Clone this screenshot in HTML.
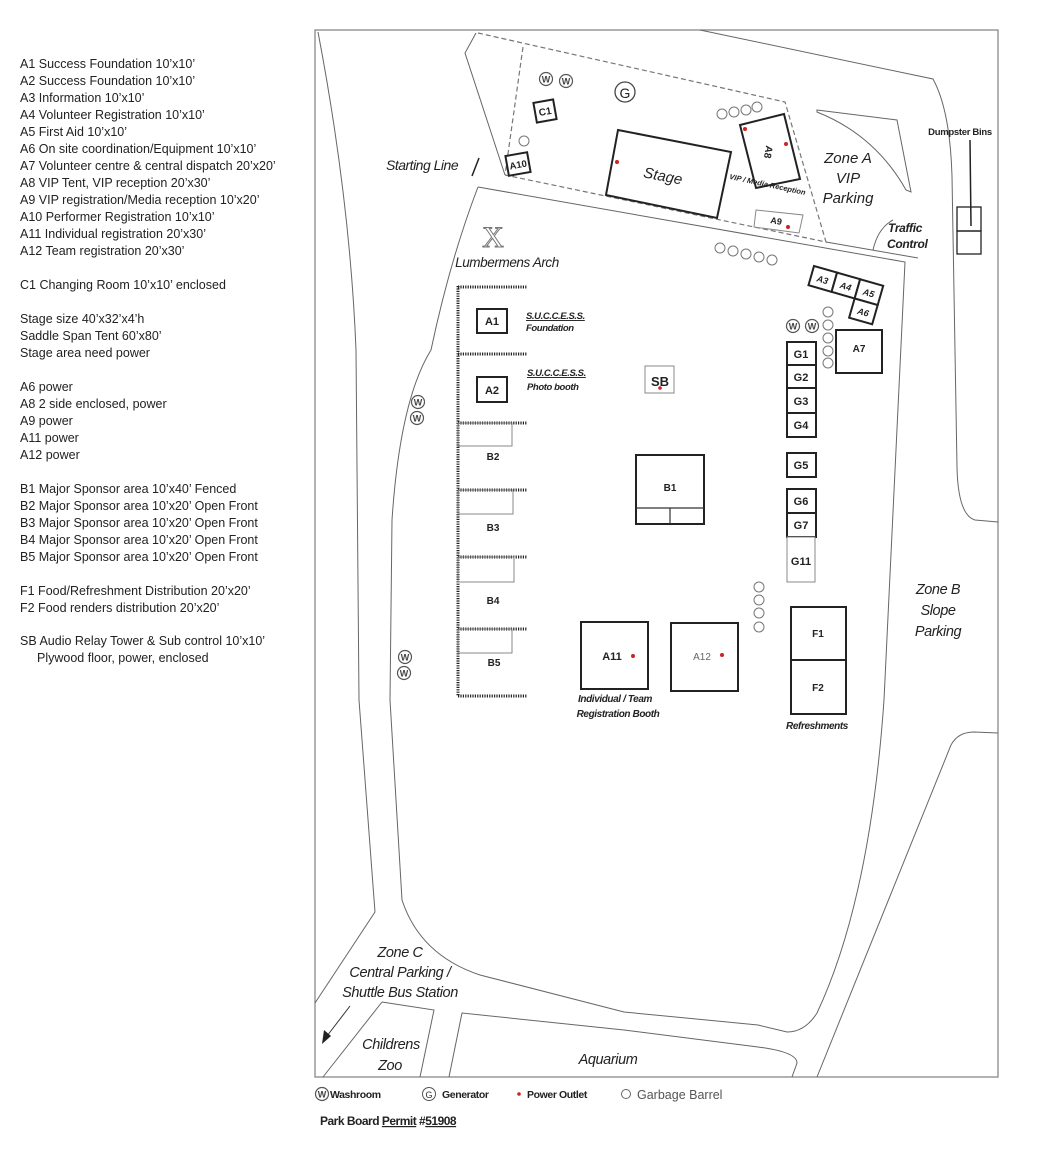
<!DOCTYPE html>
<html><head><meta charset="utf-8"><style>
html,body{margin:0;padding:0;background:#fff;width:1040px;height:1166px;overflow:hidden}
svg{display:block}
.l{font-family:"Liberation Sans Narrow","Liberation Sans",sans-serif;font-size:12.5px;fill:#222}
.b{font-family:"Liberation Sans",sans-serif;font-weight:bold;fill:#222}
.i{font-family:"Liberation Sans",sans-serif;font-style:italic;fill:#222}
.bi{font-family:"Liberation Sans",sans-serif;font-style:italic;font-weight:bold;fill:#222}
.r{fill:none;stroke:#666;stroke-width:1}
.k{fill:#fff;stroke:#222;stroke-width:2}
.t{fill:#fff;stroke:#888;stroke-width:1}
.c{fill:#fff;stroke:#777;stroke-width:1}
.d{fill:#c22}
.dot{stroke:#222;stroke-width:3;stroke-dasharray:1.2 1.2;fill:none}
</style></head><body>
<svg width="1040" height="1166" viewBox="0 0 1040 1166" xmlns="http://www.w3.org/2000/svg">
<defs>
<g id="w"><circle r="6.5" fill="#fff" stroke="#555" stroke-width="1.2"/><text y="3.5" text-anchor="middle" font-family="Liberation Sans" font-size="9" font-weight="bold" fill="#444">W</text></g>
<g id="o"><circle r="5" fill="#fff" stroke="#777" stroke-width="1"/></g>
</defs>
<!-- left legend list -->
<g class="l">
<text x="20" y="68">A1 Success Foundation 10’x10’</text>
<text x="20" y="85">A2 Success Foundation 10’x10’</text>
<text x="20" y="102">A3 Information 10’x10’</text>
<text x="20" y="119">A4 Volunteer Registration 10’x10’</text>
<text x="20" y="136">A5 First Aid 10’x10’</text>
<text x="20" y="153">A6 On site coordination/Equipment 10’x10’</text>
<text x="20" y="170">A7 Volunteer centre &amp; central dispatch 20’x20’</text>
<text x="20" y="187">A8 VIP Tent, VIP reception 20’x30’</text>
<text x="20" y="204">A9 VIP registration/Media reception 10’x20’</text>
<text x="20" y="221">A10 Performer Registration 10’x10’</text>
<text x="20" y="238">A11 Individual registration 20’x30’</text>
<text x="20" y="255">A12 Team registration 20’x30’</text>
<text x="20" y="289">C1 Changing Room 10’x10’ enclosed</text>
<text x="20" y="323">Stage size 40’x32’x4’h</text>
<text x="20" y="340">Saddle Span Tent 60’x80’</text>
<text x="20" y="357">Stage area need power</text>
<text x="20" y="391">A6 power</text>
<text x="20" y="408">A8 2 side enclosed, power</text>
<text x="20" y="425">A9 power</text>
<text x="20" y="442">A11 power</text>
<text x="20" y="459">A12 power</text>
<text x="20" y="493">B1 Major Sponsor area 10’x40’ Fenced</text>
<text x="20" y="510">B2 Major Sponsor area 10’x20’ Open Front</text>
<text x="20" y="527">B3 Major Sponsor area 10’x20’ Open Front</text>
<text x="20" y="544">B4 Major Sponsor area 10’x20’ Open Front</text>
<text x="20" y="561">B5 Major Sponsor area 10’x20’ Open Front</text>
<text x="20" y="595">F1 Food/Refreshment Distribution 20’x20’</text>
<text x="20" y="612">F2 Food renders distribution 20’x20’</text>
<text x="20" y="645">SB Audio Relay Tower &amp; Sub control 10’x10’</text>
<text x="37" y="662">Plywood floor, power, enclosed</text>
</g>

<!-- frame -->
<rect x="315" y="30" width="683" height="1047" fill="none" stroke="#888" stroke-width="1.3"/>

<!-- roads -->
<path class="r" d="M318,32 Q350,200 356,350 L359,700 L375,912 L315,1003"/>
<path class="r" d="M478,187 L905,262 L884,700 Q870,900 817,1013 Q805,1032 787,1032 L758,1025 L624,1012 L480,975 Q420,955 402,900 L390,700 L392,520 Q400,400 431,350 Q450,260 478,187"/>
<path class="r" d="M382,1002 L434,1010 L420,1077"/>
<path class="r" d="M382,1002 L323,1077"/>
<path class="r" d="M449,1077 L462,1013 L624,1030 L758,1047 Q797,1052 797,1063 L792,1077"/>
<path class="r" d="M817,1077 L951,745 Q958,732 974,732 L998,733"/>
<path class="r" d="M700,30 L933,79 Q950,110 952,176 L957,467 Q958,515 975,520 L998,522"/>
<!-- top parcel -->
<path class="r" d="M476,33 L465,53 L505,175"/>
<path d="M478,33 L785,102 L826,242 L505,175" fill="none" stroke="#777" stroke-width="1.2" stroke-dasharray="5 3"/>
<path d="M523,47 L505,175" fill="none" stroke="#777" stroke-width="1.2" stroke-dasharray="5 3"/>
<path class="r" d="M826,242 L918,258"/>
<path class="r" d="M817,110 L897,120 L911,192 L906,190 Q875,135 817,112 Z"/>
<path class="r" d="M873,250 Q878,228 893,220"/>

<!-- top parcel items -->
<use href="#w" x="546" y="79"/><use href="#w" x="566" y="81"/>
<circle cx="625" cy="92" r="10" fill="#fff" stroke="#444" stroke-width="1.3"/>
<text x="625" y="98" text-anchor="middle" font-family="Liberation Sans" font-size="14" fill="#222">G</text>
<g transform="translate(545,111) rotate(-10)"><rect x="-10" y="-10" width="20" height="20" class="k"/><text y="4" text-anchor="middle" class="b" font-size="10">C1</text></g>
<use href="#o" x="524" y="141"/>
<g transform="translate(518,164) rotate(-10)"><rect x="-11" y="-10" width="22" height="20" class="k"/><text y="4" text-anchor="middle" class="b" font-size="9.5">A10</text></g>
<polygon points="618,130 731,152 717,218 606,195" class="k"/>
<circle cx="617" cy="162" r="2" class="d"/>
<text x="663" y="181" text-anchor="middle" class="i" font-size="15" transform="rotate(11 663 176)">Stage</text>
<polygon points="740,125 784,114 800,179 756,188" class="k"/>
<circle cx="745" cy="129" r="2" class="d"/><circle cx="786" cy="144" r="2" class="d"/>
<text x="768" y="155" text-anchor="middle" class="b" font-size="10" transform="rotate(100 768 152)">A8</text>
<use href="#o" x="722" y="114"/><use href="#o" x="734" y="112"/><use href="#o" x="746" y="110"/><use href="#o" x="757" y="107"/>
<text x="767" y="187" text-anchor="middle" class="bi" font-size="7.5" transform="rotate(12 767 187)">VIP / Media Reception</text>
<polygon points="756,210 803,215 799,233 754,227" class="t"/>
<text x="776" y="224" text-anchor="middle" class="b" font-size="9" transform="rotate(10 776 222)">A9</text>
<circle cx="788" cy="227" r="2" class="d"/>
<g class="i" font-size="15" text-anchor="middle"><text x="848" y="163">Zone A</text><text x="848" y="183">VIP</text><text x="848" y="203">Parking</text></g>
<text x="960" y="135" text-anchor="middle" class="b" font-size="9.5" letter-spacing="-0.3">Dumpster Bins</text>
<line x1="970" y1="140" x2="971" y2="226" stroke="#222" stroke-width="1.5"/>
<rect x="957" y="207" width="24" height="24" fill="none" stroke="#222" stroke-width="1.3"/>
<rect x="957" y="231" width="24" height="23" fill="none" stroke="#222" stroke-width="1.3"/>
<g class="bi" font-size="12" letter-spacing="-0.3"><text x="888" y="232">Traffic</text><text x="887" y="248">Control</text></g>
<g class="i" font-size="14" letter-spacing="-0.5"><text x="386" y="170">Starting Line</text></g>
<line x1="479" y1="158" x2="472" y2="176" stroke="#222" stroke-width="1.5"/>
<use href="#o" x="720" y="248"/><use href="#o" x="733" y="251"/><use href="#o" x="746" y="254"/><use href="#o" x="759" y="257"/><use href="#o" x="772" y="260"/>
<text x="493" y="247" text-anchor="middle" font-family="Liberation Serif" font-size="30" fill="#fff" stroke="#777" stroke-width="1">X</text>
<text x="507" y="267" text-anchor="middle" class="i" font-size="13.5" letter-spacing="-0.4">Lumbermens Arch</text>

<!-- A3-A6 -->
<g transform="translate(814,266) rotate(16)">
<rect x="0" y="0" width="24" height="20" class="k"/><rect x="24" y="0" width="24" height="20" class="k"/><rect x="48" y="0" width="24" height="20" class="k"/><rect x="48" y="20" width="24" height="20" class="k"/>
<g class="bi" font-size="9" text-anchor="middle"><text x="12" y="14">A3</text><text x="36" y="14">A4</text><text x="60" y="14">A5</text><text x="60" y="34">A6</text></g>
</g>
<rect x="836" y="330" width="46" height="43" class="k"/>
<text x="859" y="352" text-anchor="middle" class="b" font-size="10">A7</text>
<use href="#w" x="793" y="326"/><use href="#w" x="812" y="326"/>
<use href="#o" x="828" y="312"/><use href="#o" x="828" y="325"/><use href="#o" x="828" y="338"/><use href="#o" x="828" y="351"/><use href="#o" x="828" y="363"/>
<g class="b" font-size="11" text-anchor="middle">
<rect x="787" y="342" width="29" height="23" class="k"/><text x="801" y="358">G1</text>
<rect x="787" y="365" width="29" height="23" class="k"/><text x="801" y="381">G2</text>
<rect x="787" y="388" width="29" height="25" class="k"/><text x="801" y="405">G3</text>
<rect x="787" y="413" width="29" height="24" class="k"/><text x="801" y="429">G4</text>
<rect x="787" y="453" width="29" height="24" class="k"/><text x="801" y="469">G5</text>
<rect x="787" y="489" width="29" height="24" class="k"/><text x="801" y="505">G6</text>
<rect x="787" y="513" width="29" height="24" class="k"/><text x="801" y="529">G7</text>
<rect x="787" y="537" width="28" height="45" class="t"/><text x="801" y="565">G11</text>
</g>

<!-- left area: dotted fence -->
<path class="dot" d="M458,286 L458,696"/>
<path class="dot" d="M458,287 L527,287 M458,354 L527,354 M458,423 L527,423 M458,490 L527,490 M458,557 L527,557 M458,629 L527,629 M458,696 L527,696"/>
<rect x="458" y="423" width="54" height="23" fill="none" stroke="#888"/>
<rect x="458" y="490" width="55" height="24" fill="none" stroke="#888"/>
<rect x="458" y="557" width="56" height="25" fill="none" stroke="#888"/>
<rect x="458" y="629" width="54" height="24" fill="none" stroke="#888"/>
<g class="b" font-size="10" text-anchor="middle"><text x="493" y="460">B2</text><text x="493" y="531">B3</text><text x="493" y="604">B4</text><text x="494" y="666">B5</text></g>
<rect x="477" y="309" width="30" height="24" class="k"/><text x="492" y="325" text-anchor="middle" class="b" font-size="11">A1</text>
<rect x="477" y="377" width="30" height="25" class="k"/><text x="492" y="394" text-anchor="middle" class="b" font-size="11">A2</text>
<g class="bi" font-size="9.5" letter-spacing="-0.4">
<text x="526" y="319" text-decoration="underline">S.U.C.C.E.S.S.</text><text x="526" y="331">Foundation</text>
<text x="527" y="376" text-decoration="underline">S.U.C.C.E.S.S.</text><text x="527" y="390">Photo booth</text>
</g>
<use href="#w" x="418" y="402"/><use href="#w" x="417" y="418"/>
<use href="#w" x="405" y="657"/><use href="#w" x="404" y="673"/>

<rect x="645" y="366" width="29" height="27" class="t"/>
<text x="660" y="386" text-anchor="middle" class="b" font-size="13">SB</text>
<circle cx="660" cy="388" r="1.8" class="d"/>
<rect x="636" y="455" width="68" height="69" class="k"/>
<path d="M636,508 L704,508 M670,508 L670,524" stroke="#333" stroke-width="1.2"/>
<text x="670" y="491" text-anchor="middle" class="b" font-size="10">B1</text>

<rect x="581" y="622" width="67" height="67" class="k"/>
<text x="612" y="660" text-anchor="middle" class="b" font-size="11">A11</text>
<circle cx="633" cy="656" r="2" class="d"/>
<rect x="671" y="623" width="67" height="68" class="k"/>
<text x="702" y="660" text-anchor="middle" font-family="Liberation Sans" font-size="10" fill="#666">A12</text>
<circle cx="722" cy="655" r="2" class="d"/>
<g class="bi" font-size="10" text-anchor="middle" letter-spacing="-0.4"><text x="615" y="702">Individual / Team</text><text x="618" y="717">Registration Booth</text></g>
<use href="#o" x="759" y="587"/><use href="#o" x="759" y="600"/><use href="#o" x="759" y="613"/><use href="#o" x="759" y="627"/>
<rect x="791" y="607" width="55" height="53" class="k"/><text x="818" y="637" text-anchor="middle" class="b" font-size="10">F1</text>
<rect x="791" y="660" width="55" height="54" class="k"/><text x="818" y="691" text-anchor="middle" class="b" font-size="10">F2</text>
<text x="817" y="729" text-anchor="middle" class="bi" font-size="10" letter-spacing="-0.4">Refreshments</text>

<!-- zones -->
<g class="i" font-size="14.5" text-anchor="middle" letter-spacing="-0.4">
<text x="938" y="594">Zone B</text><text x="938" y="615">Slope</text><text x="938" y="636">Parking</text>
<text x="400" y="957">Zone C</text><text x="400" y="977">Central Parking /</text><text x="400" y="997">Shuttle Bus Station</text>
<text x="391" y="1049">Childrens</text><text x="390" y="1070">Zoo</text>
<text x="608" y="1064">Aquarium</text>
</g>
<line x1="350" y1="1006" x2="327" y2="1036" stroke="#333" stroke-width="1"/>
<polygon points="322,1044 324,1030 331,1036" fill="#222"/>

<!-- legend -->
<use href="#w" x="322" y="1094"/>
<text x="330" y="1098" class="b" font-size="10.5" letter-spacing="-0.4">Washroom</text>
<circle cx="429" cy="1094" r="6.5" fill="#fff" stroke="#555"/><text x="429" y="1098" text-anchor="middle" font-family="Liberation Sans" font-size="9" fill="#333">G</text>
<text x="442" y="1098" class="b" font-size="10.5" letter-spacing="-0.4">Generator</text>
<circle cx="519" cy="1094" r="1.8" class="d"/>
<text x="527" y="1098" class="b" font-size="10.5" letter-spacing="-0.4">Power Outlet</text>
<circle cx="626" cy="1094" r="4.5" fill="none" stroke="#666"/>
<text x="637" y="1099" font-family="Liberation Sans" font-size="12.5" fill="#555">Garbage Barrel</text>
<text x="320" y="1125" class="b" font-size="12" letter-spacing="-0.5">Park Board <tspan text-decoration="underline">Permit</tspan>  #<tspan text-decoration="underline">51908</tspan></text>
</svg>
</body></html>
